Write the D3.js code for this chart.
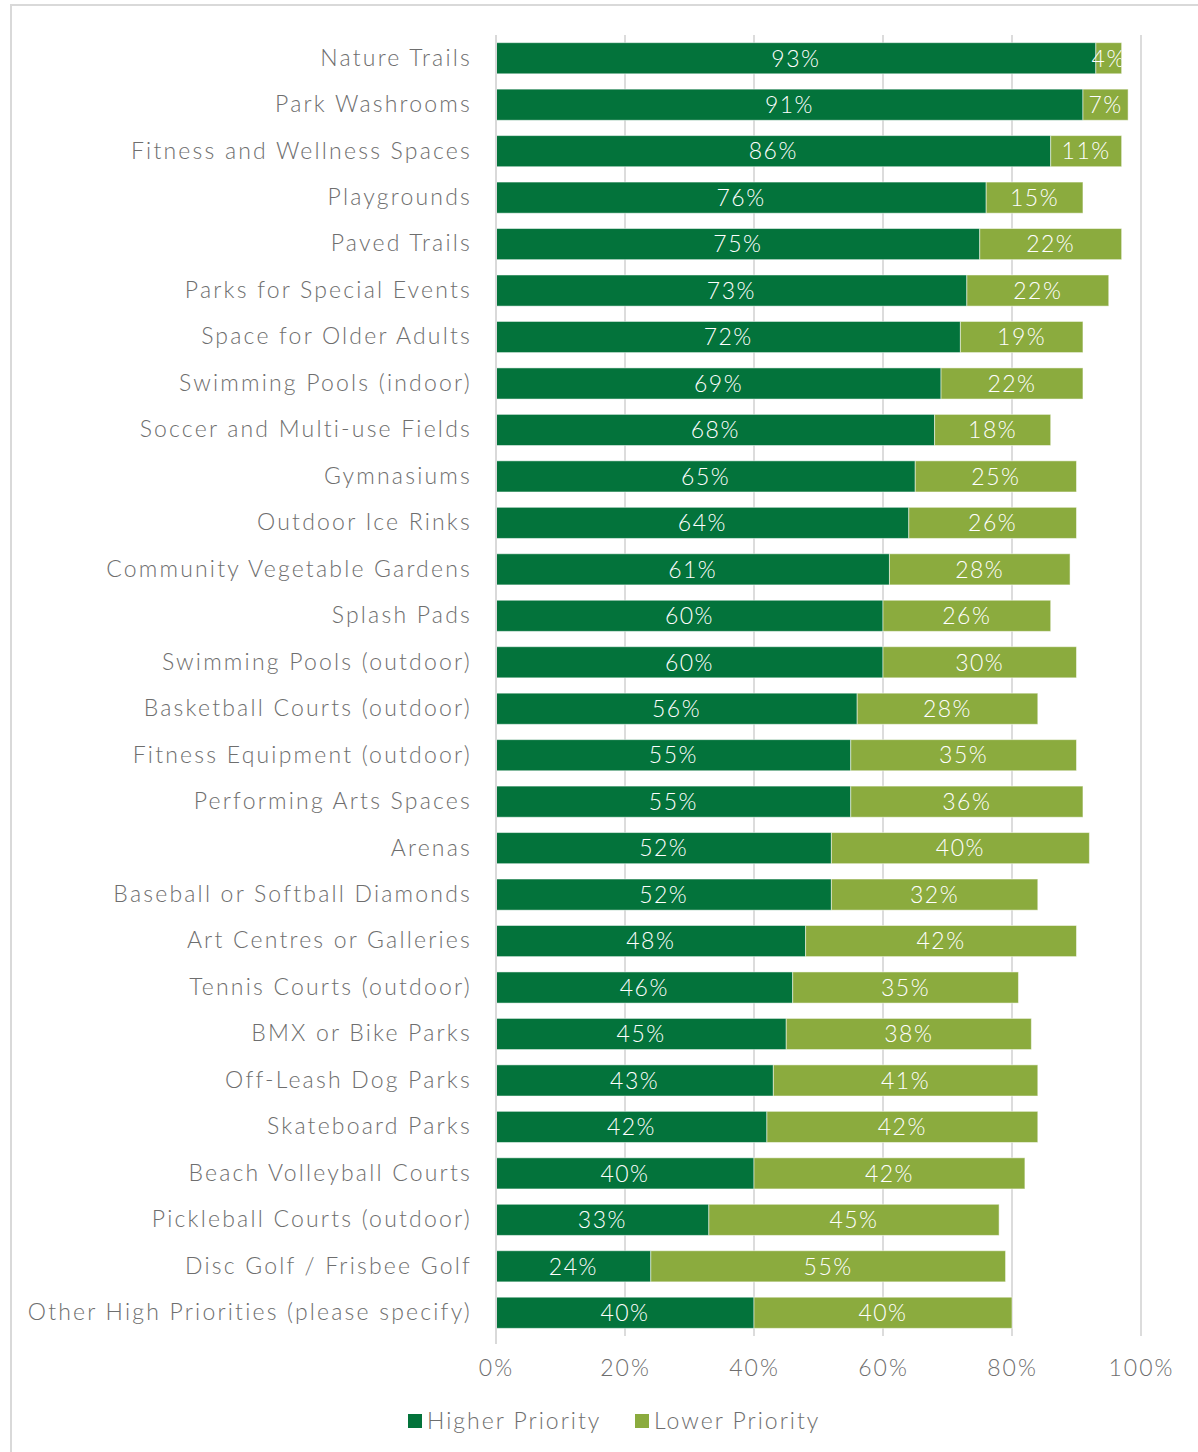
<!DOCTYPE html>
<html>
<head>
<meta charset="utf-8">
<script src="https://cdn.jsdelivr.net/npm/d3@7"></script>
<style>
  html, body { margin: 0; padding: 0; background: #fff; }
  svg text { font-family: "Lato", "Open Sans", sans-serif; }
</style>
</head>
<body>
<svg id="chart" width="1198" height="1452"></svg>
<script>
// Facility categories, top to bottom
const categories = [
  "Nature Trails", "Park Washrooms", "Fitness and Wellness Spaces", "Playgrounds",
  "Paved Trails", "Parks for Special Events", "Space for Older Adults",
  "Swimming Pools (indoor)", "Soccer and Multi-use Fields", "Gymnasiums",
  "Outdoor Ice Rinks", "Community Vegetable Gardens", "Splash Pads",
  "Swimming Pools (outdoor)", "Basketball Courts (outdoor)", "Fitness Equipment (outdoor)",
  "Performing Arts Spaces", "Arenas", "Baseball or Softball Diamonds",
  "Art Centres or Galleries", "Tennis Courts (outdoor)", "BMX or Bike Parks",
  "Off-Leash Dog Parks", "Skateboard Parks", "Beach Volleyball Courts",
  "Pickleball Courts (outdoor)", "Disc Golf / Frisbee Golf",
  "Other High Priorities (please specify)"
];

// Share of respondents (%)
const higherPriority = [93, 91, 86, 76, 75, 73, 72, 69, 68, 65, 64, 61, 60, 60, 56, 55, 55, 52, 52, 48, 46, 45, 43, 42, 40, 33, 24, 40];
const lowerPriority  = [4, 7, 11, 15, 22, 22, 19, 22, 18, 25, 26, 28, 26, 30, 28, 35, 36, 40, 32, 42, 35, 38, 41, 42, 42, 45, 55, 40];

const seriesNames = ["Higher Priority", "Lower Priority"];
const tickValues = [0, 20, 40, 60, 80, 100];

const colors = { "Higher Priority": "#03733b", "Lower Priority": "#8bab3e" };
const textGrey = "#6e6e6e";

const svg = d3.select("#chart");

// outer frame
svg.append("rect")
  .attr("x", 11).attr("y", 5)
  .attr("width", 1200).attr("height", 1460)
  .attr("fill", "none").attr("stroke", "#d9d9d9").attr("stroke-width", 2);

const plot = { left: 496, right: 1141, top: 35, bottom: 1336 };

const x = d3.scaleLinear().domain([0, 100]).range([plot.left, plot.right]);
const y = d3.scaleBand().domain(categories).range([plot.top, plot.bottom]).paddingInner(0.33).paddingOuter(0.165);

// gridlines
svg.append("g")
  .selectAll("line")
  .data(tickValues)
  .join("line")
  .attr("x1", d => x(d)).attr("x2", d => x(d))
  .attr("y1", plot.top).attr("y2", plot.bottom)
  .attr("stroke", "#dcdcdc").attr("stroke-width", 2);

// stacked data
const rows = categories.map((c, i) => ({
  category: c,
  "Higher Priority": higherPriority[i],
  "Lower Priority": lowerPriority[i]
}));
const stacked = d3.stack().keys(seriesNames)(rows);

const defs = svg.append("defs");

stacked.forEach(layer => {
  const g = svg.append("g");
  g.selectAll("rect")
    .data(layer)
    .join("rect")
    .attr("x", d => x(d[0]))
    .attr("y", d => y(d.data.category))
    .attr("width", d => x(d[1]) - x(d[0]))
    .attr("height", y.bandwidth())
    .attr("fill", colors[layer.key])
    .attr("stroke", "#ffffff").attr("stroke-opacity", 0.5).attr("stroke-width", 1);
});

// value labels (clipped at the bar end)
stacked.forEach((layer, li) => {
  layer.forEach((d, i) => {
    const id = "clip-" + li + "-" + i;
    defs.append("clipPath").attr("id", id)
      .append("rect")
      .attr("x", plot.left - 100)
      .attr("y", y(d.data.category) - 5)
      .attr("width", x(d[1]) - plot.left + 100)
      .attr("height", y.bandwidth() + 10);
    svg.append("text")
      .attr("clip-path", `url(#${id})`)
      .attr("x", (x(d[0]) + x(d[1])) / 2)
      .attr("y", y(d.data.category) + y.bandwidth() / 2)
      .attr("dy", "0.36em")
      .attr("text-anchor", "middle")
      .attr("fill", "#ffffff")
      .attr("font-size", 23)
      .attr("font-weight", 300)
      .attr("letter-spacing", 1.5)
      .text(d[1] - d[0] + "%");
  });
});

// axis line
svg.append("line")
  .attr("x1", plot.left).attr("x2", plot.left)
  .attr("y1", plot.top).attr("y2", plot.bottom + 8)
  .attr("stroke", "#d9d9d9").attr("stroke-width", 2);

// category axis labels
const yAxis = d3.axisLeft(y).tickSize(0).tickPadding(24);
const ya = svg.append("g").attr("transform", `translate(${plot.left},0)`).call(yAxis);
ya.select(".domain").remove();
ya.selectAll("text")
  .attr("font-size", 23)
  .attr("font-weight", 300)
  .attr("letter-spacing", 2.2)
  .attr("fill", textGrey)
  .style("font-family", '"Lato", sans-serif');

// value axis labels
const xAxis = d3.axisBottom(x).tickValues(tickValues).tickFormat(d => d + "%").tickSize(0).tickPadding(24);
const xa = svg.append("g").attr("transform", `translate(0,${plot.bottom})`).call(xAxis);
xa.select(".domain").remove();
xa.selectAll("text")
  .attr("font-size", 23)
  .attr("font-weight", 300)
  .attr("letter-spacing", 2)
  .attr("fill", textGrey)
  .style("font-family", '"Lato", sans-serif');

// legend
const legendItems = [
  { name: "Higher Priority", x: 408 },
  { name: "Lower Priority", x: 635 }
];
const lg = svg.append("g");
legendItems.forEach(it => {
  lg.append("rect")
    .attr("x", it.x).attr("y", 1414)
    .attr("width", 14).attr("height", 14)
    .attr("fill", colors[it.name]);
  lg.append("text")
    .attr("x", it.x + 19).attr("y", 1421)
    .attr("dy", "0.36em")
    .attr("font-size", 23)
    .attr("font-weight", 300)
    .attr("letter-spacing", 2)
    .attr("fill", textGrey)
    .text(it.name);
});
</script>
</body>
</html>
